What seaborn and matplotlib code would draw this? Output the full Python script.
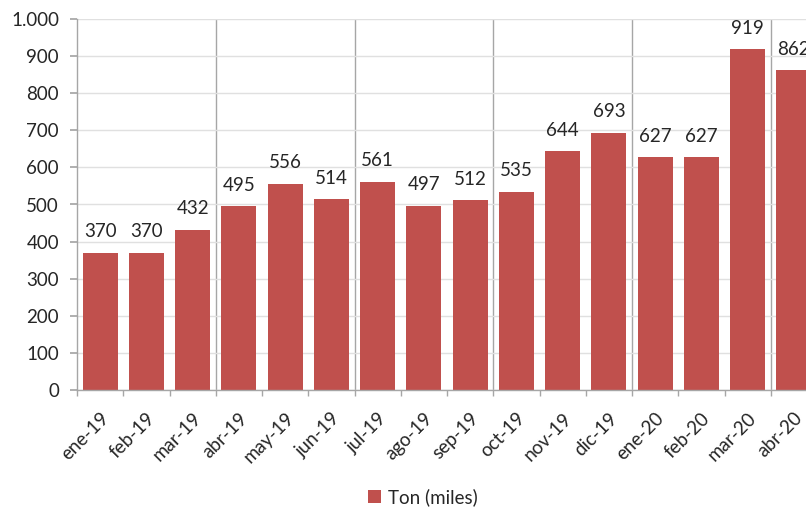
import numpy as np
import pandas as pd
import matplotlib
matplotlib.use("Agg")
import matplotlib.pyplot as plt
import seaborn as sns
from matplotlib.ticker import FuncFormatter, FixedLocator
from matplotlib.patches import Patch

categories = ["ene-19", "feb-19", "mar-19", "abr-19", "may-19", "jun-19", "jul-19",
              "ago-19", "sep-19", "oct-19", "nov-19", "dic-19", "ene-20", "feb-20",
              "mar-20", "abr-20"]
values = [370, 370, 432, 495, 556, 514, 561, 497, 512, 535, 644, 693, 627, 627, 919, 862]
series_name = "Ton (miles)"
y_ticks = [0, 100, 200, 300, 400, 500, 600, 700, 800, 900, 1000]

sns.set_theme(style="white")
plt.rcParams['font.family'] = ['Lato', 'DejaVu Sans']

bar_color = "#C0504D"
text_color = "#262626"
fig = plt.figure(figsize=(8.06, 5.08), dpi=100)
ax = fig.add_axes([77/806, (508-390)/508, 740/806, 371/508])

df = pd.DataFrame({"mes": categories, "ton": values})
sns.barplot(data=df, x="mes", y="ton", color=bar_color, width=0.76, ax=ax,
            saturation=1, edgecolor="none")

ax.set_xlim(-0.5, len(categories) - 0.5)
ax.set_ylim(0, 1000)
ax.set_yticks(y_ticks)
ax.yaxis.set_major_formatter(FuncFormatter(lambda v, p: f"{int(v):,}".replace(",", ".")))
ax.grid(axis="y", color="#E0E0E0", linewidth=1)
ax.set_axisbelow(True)

# quarter separators
for xq in [2.5, 5.5, 8.5, 11.5, 14.5]:
    ax.axvline(xq, color="#A6A6A6", linewidth=1, zorder=0.5)

for s in ["top", "right"]:
    ax.spines[s].set_visible(False)
for s in ["left", "bottom"]:
    ax.spines[s].set_color("#A6A6A6")
    ax.spines[s].set_linewidth(1)

ax.set_xlabel("")
ax.set_ylabel("")
ax.tick_params(axis="y", which="major", length=5, color="#A6A6A6", left=True,
               labelsize=13.5, labelcolor=text_color, pad=8)
ax.tick_params(axis="x", which="major", length=0, labelsize=13.5, labelcolor=text_color, pad=14)
ax.xaxis.set_minor_locator(FixedLocator(np.arange(-0.5, len(categories), 1)))
ax.tick_params(axis="x", which="minor", length=4.5, color="#A6A6A6", bottom=True)
plt.setp(ax.get_xticklabels(), rotation=45, ha="right", rotation_mode="anchor")

for c in ax.containers:
    ax.bar_label(c, labels=[str(v) for v in values], padding=9, fontsize=13.5, color=text_color)

fig.legend(handles=[Patch(facecolor=bar_color, edgecolor="none")], labels=[series_name],
           loc="center", bbox_to_anchor=(423/806, 1 - 497/508), frameon=False,
           fontsize=13.5, handlelength=0.7, handleheight=0.75, handletextpad=0.35,
           labelcolor=text_color)

fig.savefig("out.png", dpi=100)
